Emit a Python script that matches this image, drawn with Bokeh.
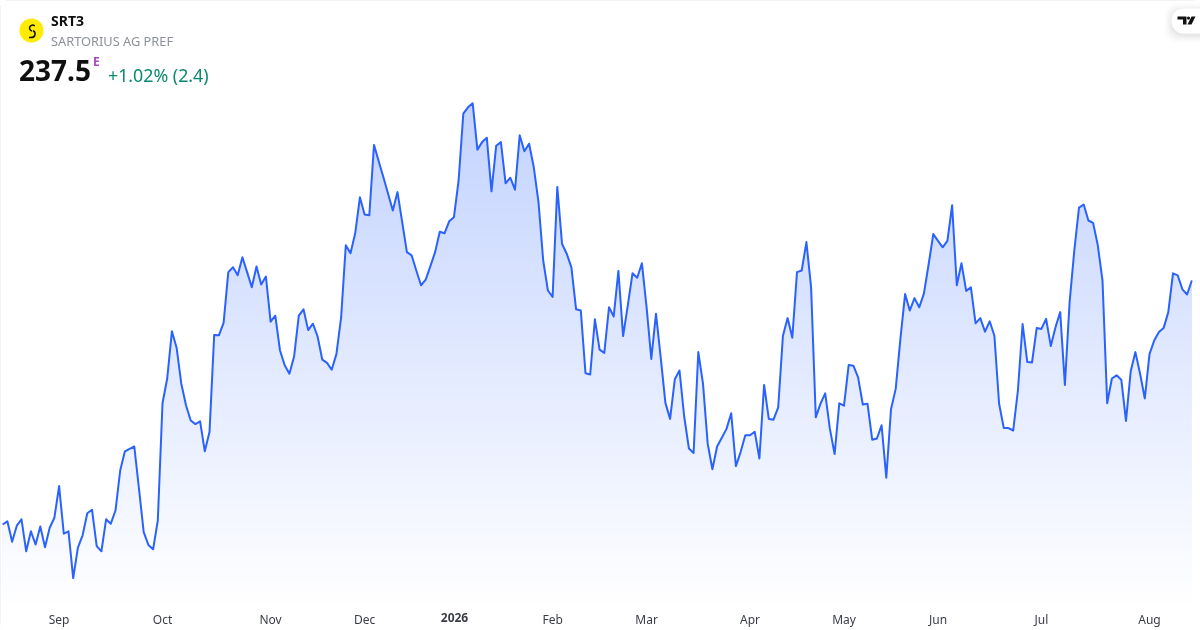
import numpy as np
from bokeh.core.properties import value
from bokeh.embed import file_html
from bokeh.models import BoxAnnotation, FixedTicker, Range1d
from bokeh.plotting import figure
from bokeh.resources import INLINE

# ---- data -------------------------------------------------------------
prices = [
    176.5, 177.3, 172.2, 176.2, 177.8, 169.8, 174.8, 171.5, 176.0, 170.8,
    175.7, 178.2, 186.1, 174.2, 174.8, 163.1, 170.7, 173.8, 179.3, 180.2,
    171.1, 169.8, 177.8, 176.7, 180.0, 190.0, 194.8, 195.4, 196.0, 185.4,
    174.6, 171.4, 170.3, 177.5, 206.8, 213.0, 224.8, 220.7, 211.7, 206.3,
    202.5, 201.6, 202.3, 194.8, 199.6, 223.9, 223.8, 226.9, 239.6, 240.8,
    238.8, 243.3, 239.6, 235.8, 241.0, 236.5, 238.5, 227.2, 228.7, 220.0,
    216.3, 214.2, 218.5, 228.7, 230.3, 225.1, 226.7, 223.5, 217.7, 216.9,
    215.2, 219.1, 228.2, 246.3, 244.3, 249.3, 258.3, 254.0, 253.8, 271.4,
    267.3, 263.3, 259.2, 255.0, 259.6, 252.1, 244.6, 243.8, 240.0, 236.3,
    237.7, 241.1, 244.6, 249.7, 249.3, 252.3, 253.3, 262.5, 279.2, 280.8,
    281.8, 270.2, 272.1, 273.2, 259.8, 271.2, 272.1, 261.8, 263.2, 260.2,
    273.8, 269.8, 271.7, 265.8, 257.1, 242.5, 235.0, 233.4, 260.9, 246.7,
    244.2, 240.8, 230.3, 230.0, 214.3, 214.0, 227.8, 220.2, 219.4, 230.8,
    228.5, 239.9, 223.6, 231.3, 239.3, 238.2, 241.8, 230.8, 217.9, 229.2,
    218.3, 206.9, 202.9, 212.8, 215.0, 203.5, 195.5, 194.4, 219.6, 211.7,
    196.7, 190.3, 196.0, 198.2, 200.4, 204.3, 191.1, 194.6, 198.8, 198.8,
    199.7, 193.0, 211.4, 202.9, 202.7, 205.8, 223.6, 228.1, 223.2, 239.6,
    240.0, 247.1, 235.8, 203.3, 206.7, 209.3, 200.4, 194.1, 206.8, 206.2,
    216.4, 216.2, 213.3, 206.5, 206.7, 197.7, 198.0, 201.3, 188.2, 205.3,
    210.4, 222.9, 234.1, 230.0, 233.1, 230.8, 234.2, 241.5, 249.1, 247.4,
    245.8, 247.4, 256.3, 236.3, 241.8, 234.9, 235.8, 226.8, 228.1, 224.7,
    227.3, 223.7, 206.7, 200.6, 200.6, 200.0, 210.0, 226.6, 217.1, 217.0,
    225.6, 225.4, 227.9, 221.1, 225.8, 229.6, 211.4, 232.1, 245.0, 255.7,
    256.5, 252.5, 251.9, 246.3, 237.5, 206.8, 213.0, 213.8, 212.7, 202.4,
    214.8, 219.6, 214.2, 208.0, 219.1, 222.5, 224.6, 225.6, 229.6, 239.3,
    238.8, 235.3, 234.0, 237.5,
]
sessions = list(range(len(prices)))

tick_sessions = [12, 34, 57, 77, 96, 117, 137, 159, 179, 199, 221, 244]
tick_labels = ["Sep", "Oct", "Nov", "Dec", "", "Feb", "Mar", "Apr", "May", "Jun", "Jul", "Aug"]
year_label = "2026"

symbol = "SRT3"
company = "SARTORIUS AG PREF"
last_price = "237.5"
session_flag = "E"
change = "+1.02% (2.4)"

# ---- layout -----------------------------------------------------------
W, H = 1200, 630
FONT = "Noto Sans"
LINE = "#2962FF"
INK = "#0f0f0f"
PX_PER_SESSION = 4.7

def xd(px):
    return (px - 2.2) / PX_PER_SESSION

def yd(py):
    return 307.5 - py / 4.0

p = figure(
    width=W, height=H, output_backend="svg", toolbar_location=None,
    x_range=Range1d(xd(0), xd(W)), y_range=Range1d(yd(H), yd(0)),
    min_border_left=0, min_border_right=0, min_border_top=0,
    min_border_bottom=0, y_axis_location=None,
    background_fill_color="white", border_fill_color="white",
)
p.outline_line_color = None
p.grid.visible = False
p.styles = {
    "position": "fixed", "left": "0", "top": "0",
    "outline": "1px solid #e4e6ec", "outline-offset": "-1px", "border-radius": "8px",
}

ax = p.xaxis[0]
ax.ticker = FixedTicker(ticks=tick_sessions)
ax.major_label_overrides = dict(zip(tick_sessions, tick_labels))
ax.axis_line_color = None
ax.major_tick_line_color = None
ax.minor_tick_line_color = None
ax.major_tick_out = 0
ax.major_tick_in = 0
ax.major_label_standoff = -20
ax.major_label_text_font = FONT
ax.major_label_text_font_size = "12px"
ax.major_label_text_color = "#3a3d45"

# ---- gradient area: painted top-down, each layer covers what lies below it
sx = np.array(sessions, dtype=float)
sv = np.array(prices, dtype=float)
base = yd(H)

def fill_color(py):
    a = max(0.0, min(0.28, 0.28 * (605 - py) / 502))
    r, g, b = (round(255 + (c - 255) * a) for c in (41, 98, 255))
    return f"#{r:02x}{g:02x}{b:02x}"

p.varea(sx, sv, base, fill_color=fill_color(102))
for py in range(106, 610, 4):
    t = yd(py)
    i = np.where((sv[:-1] - t) * (sv[1:] - t) < 0)[0]
    cross = sx[i] + (t - sv[i]) / (sv[i + 1] - sv[i])
    xs = np.sort(np.concatenate([sx, cross]))
    top = np.minimum(np.interp(xs, sx, sv), t)
    p.varea(xs, top, base, fill_color=fill_color(py))

p.line(sessions, prices, line_color=LINE, line_width=2, line_join="round")

# ---- header -----------------------------------------------------------
def label(px, py, text, size, color, style="normal", align="left"):
    p.text([xd(px)], [yd(py)], text=[text], text_font=value(FONT),
           text_font_size=size, text_color=color, text_font_style=style,
           text_baseline="middle", text_align=align)

p.circle([xd(31)], [yd(30)], radius=12 / PX_PER_SESSION, fill_color="#ffeb00", line_color=None)
p.bezier(x0=[xd(34.3)], y0=[yd(25.3)], x1=[xd(31.5)], y1=[yd(30.6)],
         cx0=[xd(30)], cy0=[yd(22.5)], cx1=[xd(26.5)], cy1=[yd(28.5)],
         line_color="#111111", line_width=1.5)
p.bezier(x0=[xd(32.5)], y0=[yd(30.2)], x1=[xd(28.5)], y1=[yd(37)],
         cx0=[xd(35.5)], cy0=[yd(31.5)], cx1=[xd(36)], cy1=[yd(38)],
         line_color="#111111", line_width=1.5)

label(50.5, 20, symbol, "14px", INK, "bold")
label(50.5, 40, company, "12.8px", "#8c9099")
label(18.5, 70, last_price, "28px", INK, "bold")
label(92.5, 60.5, session_flag, "12px", "#ab47bc", "bold")
label(107.5, 74, change, "17.8px", "#0b8a70")
label(454, 617, year_label, "12px", "#3a3d45", "bold", "center")

# ---- brand badge, top right ----------------------------------------------
for grow, alpha in ((7, 0.012), (5, 0.018), (3, 0.025), (1, 0.035)):
    p.add_layout(BoxAnnotation(left=xd(1171 - grow), right=xd(W), top=yd(8 - grow + 2), bottom=yd(33 + grow + 2),
                               fill_color="#000000", fill_alpha=alpha, line_color=None,
                               border_radius=(12, 0, 0, 12), level="underlay"))
p.add_layout(BoxAnnotation(left=xd(1171), right=xd(W), top=yd(8), bottom=yd(33),
                           fill_color="white", fill_alpha=1, line_color=None,
                           border_radius=(12, 0, 0, 12), level="underlay"))
p.patches(
    [[xd(a) for a in (1177, 1186, 1186, 1182.5, 1182.5, 1177)],
     [xd(a) for a in (1191, 1195, 1191, 1187)]],
    [[yd(a) for a in (16, 16, 24, 24, 19, 19)],
     [yd(a) for a in (16, 16, 24, 24)]],
    fill_color="#111111", line_color=None,
)
p.circle([xd(1188)], [yd(17.6)], radius=1.6 / PX_PER_SESSION, fill_color="#111111", line_color=None)

open("out.html", "w").write(file_html(p, INLINE))
